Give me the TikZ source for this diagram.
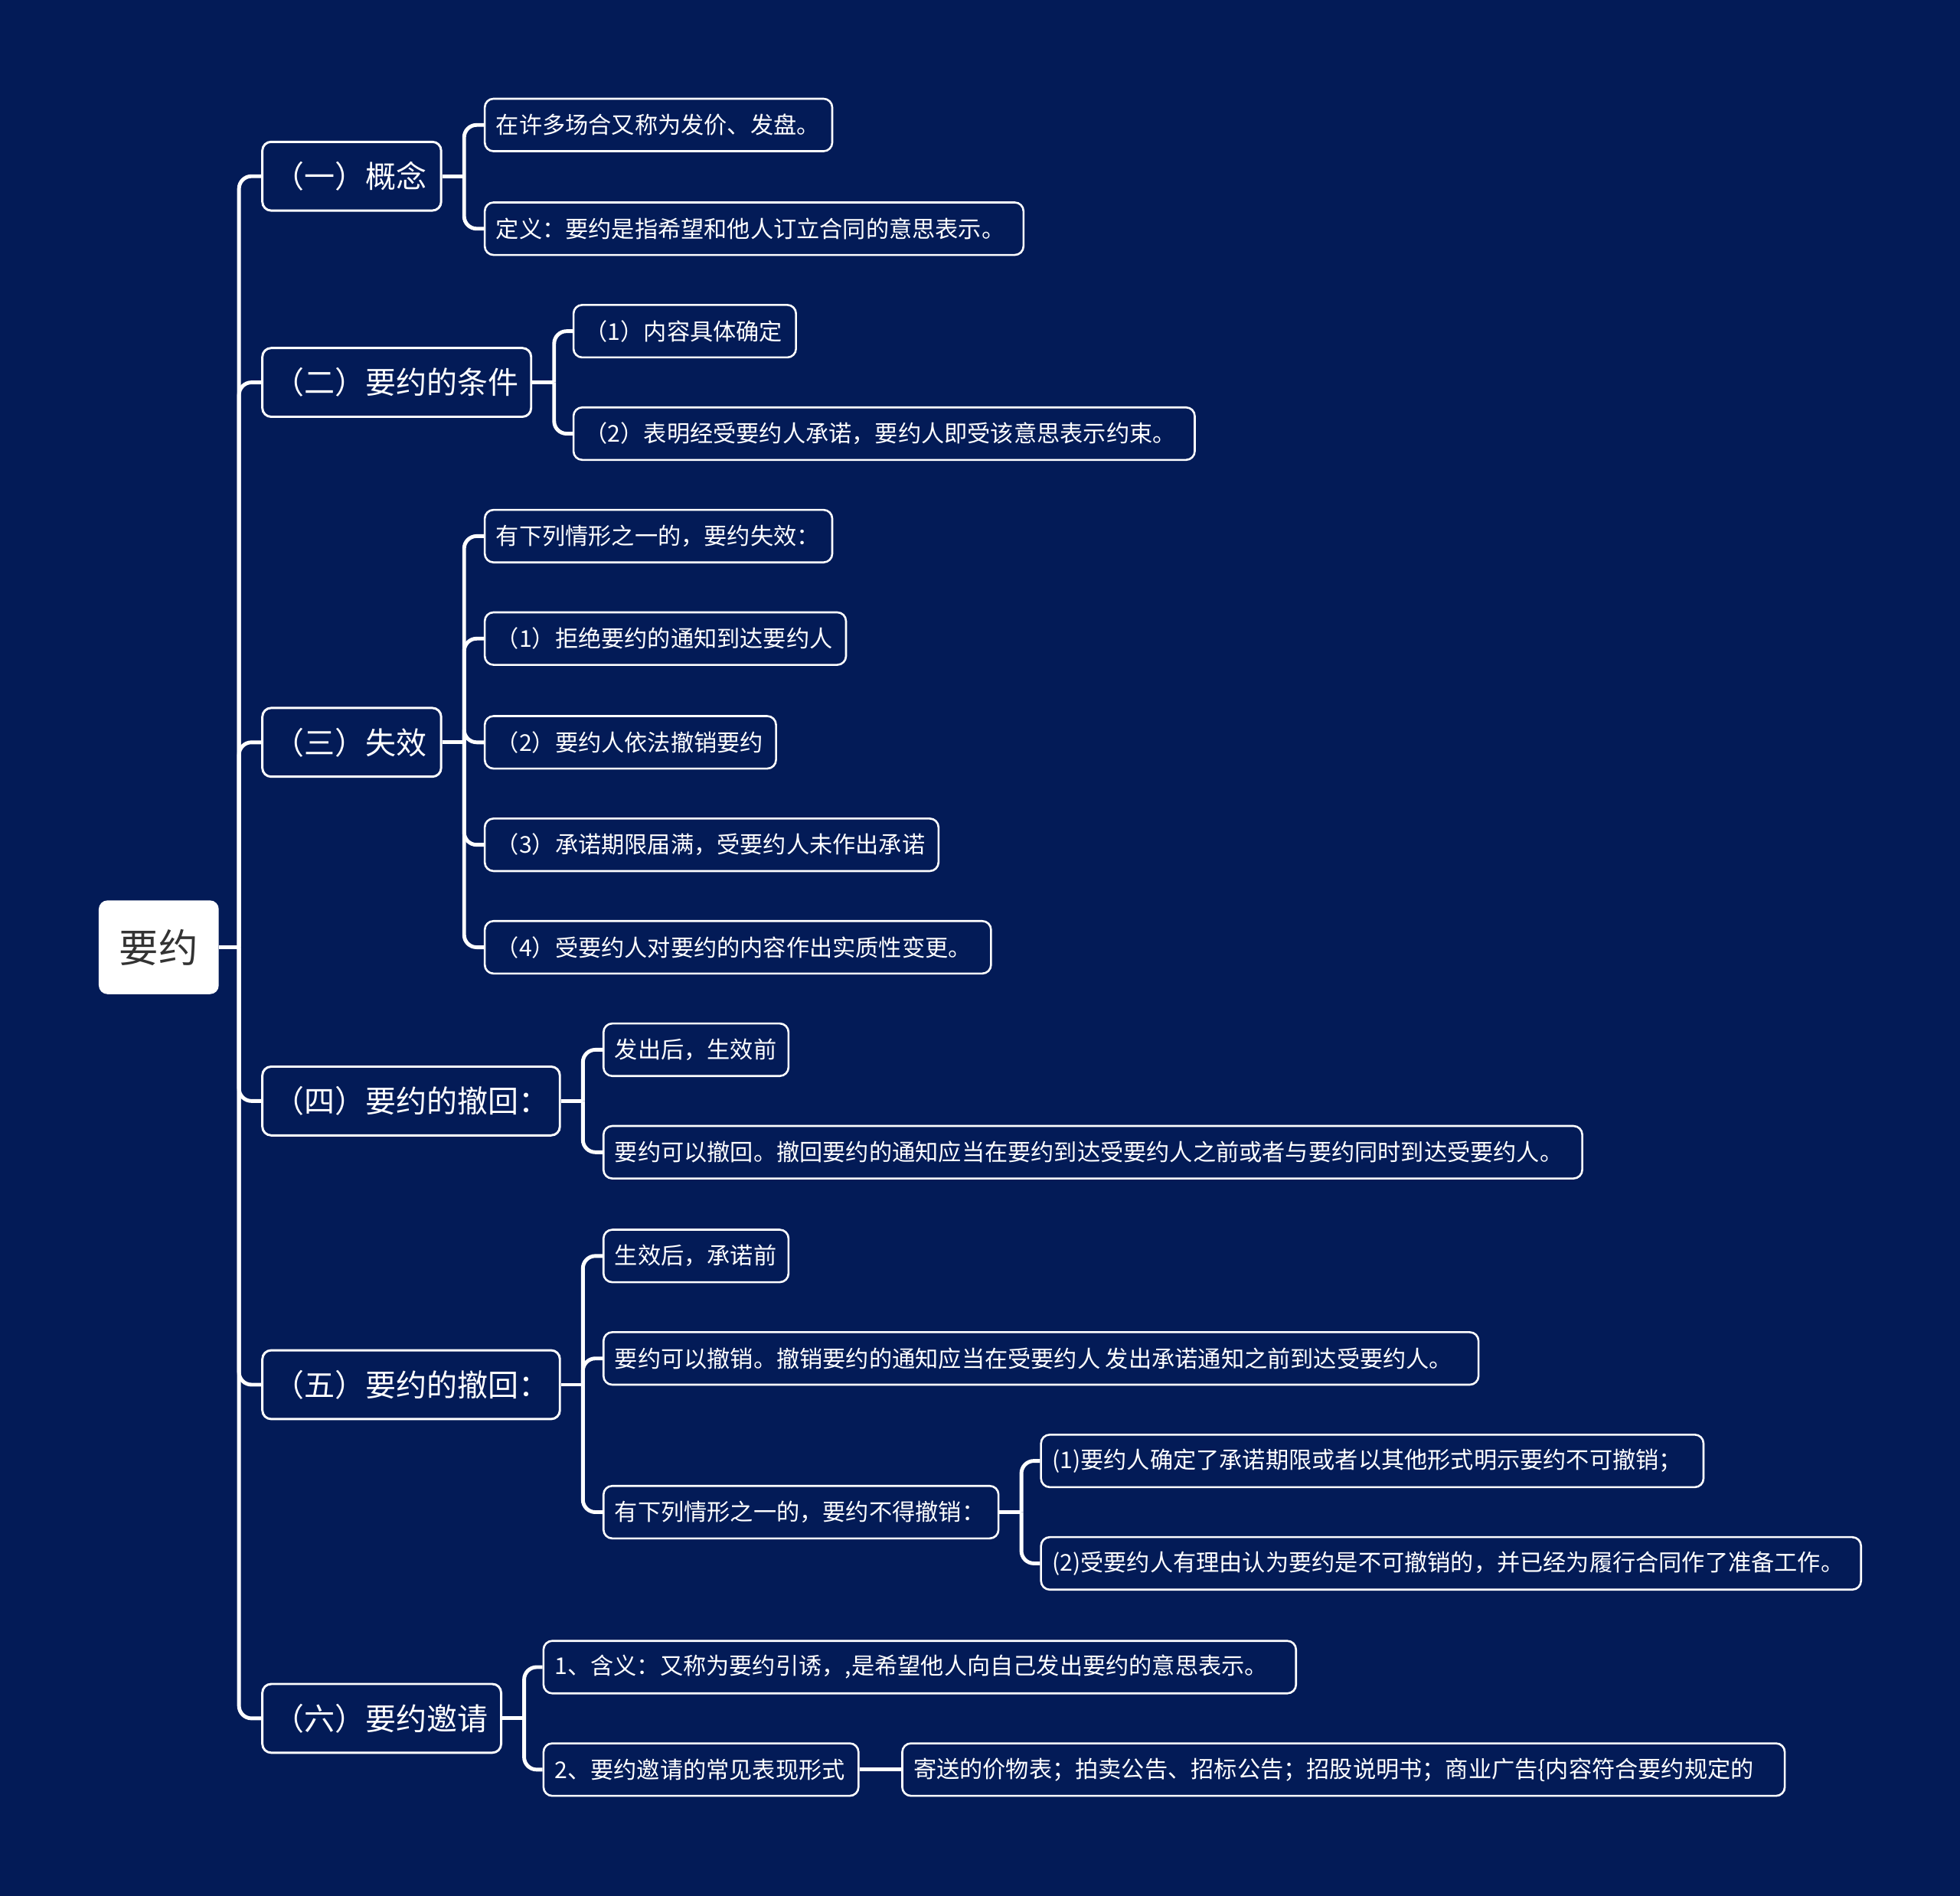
\documentclass[tikz,border=0pt]{standalone}
\usepackage{fontspec}
\setmainfont{Noto Sans CJK SC}
\definecolor{bgc}{HTML}{031B57}
\definecolor{roottext}{HTML}{333333}
\newcommand{\mybox}[2]{\makebox[#1pt][l]{#2}}
\begin{document}
\begin{tikzpicture}[x=1pt,y=-1pt,
  conn/.style={draw=white,line width=3pt},
  rootbox/.style={draw=none,fill=white,rounded corners=7pt,minimum width=96pt,minimum height=75pt,
     font=\fontsize{31.5pt}{36pt}\selectfont,text=roottext,inner sep=0pt},
  lone/.style={draw=white,line width=1.8pt,fill=bgc,rounded corners=7pt,anchor=west,minimum height=55pt,
     inner xsep=9pt,inner ysep=0pt,text=white,font=\fontsize{24.5pt}{28pt}\selectfont},
  ltwo/.style={draw=white,line width=1.6pt,fill=bgc,rounded corners=7pt,anchor=west,minimum height=42pt,
     inner xsep=9pt,inner ysep=0pt,text=white,font=\fontsize{18.5pt}{22pt}\selectfont}]
\fill[bgc] (0,0) rectangle (1568,1517);
\useasboundingbox (0,0) rectangle (1568,1517);

% root
\node[rootbox] (root) at (127,758) {要约};

% level 1
\node[lone] (n1) at (209,141) {\mybox{125}{（一）概念}};
\node[lone] (n2) at (209,306) {\mybox{197}{（二）要约的条件}};
\node[lone] (n3) at (209,594) {\mybox{125}{（三）失效}};
\node[lone] (n4) at (209,881) {\mybox{220}{（四）要约的撤回：}};
\node[lone] (n5) at (209,1108) {\mybox{220}{（五）要约的撤回：}};
\node[lone] (n6) at (209,1375) {\mybox{173}{（六）要约邀请}};

% level 2
\node[ltwo] (a1) at (387,100) {\mybox{260}{在许多场合又称为发价、发盘。}};
\node[ltwo] (a2) at (387,183) {\mybox{413}{定义：要约是指希望和他人订立合同的意思表示。}};
\node[ltwo] (b1) at (458,265) {\mybox{160}{（1）内容具体确定}};
\node[ltwo] (b2) at (458,347) {\mybox{479}{（2）表明经受要约人承诺，要约人即受该意思表示约束。}};
\node[ltwo] (c0) at (387,429) {\mybox{260}{有下列情形之一的，要约失效：}};
\node[ltwo] (c1) at (387,511) {\mybox{271}{（1）拒绝要约的通知到达要约人}};
\node[ltwo] (c2) at (387,594) {\mybox{215}{（2）要约人依法撤销要约}};
\node[ltwo] (c3) at (387,676) {\mybox{345}{（3）承诺期限届满，受要约人未作出承诺}};
\node[ltwo] (c4) at (387,758) {\mybox{387}{（4）受要约人对要约的内容作出实质性变更。}};
\node[ltwo] (d1) at (482,840) {\mybox{130}{发出后，生效前}};
\node[ltwo] (d2) at (482,922) {\mybox{765}{要约可以撤回。撤回要约的通知应当在要约到达受要约人之前或者与要约同时到达受要约人。}};
\node[ltwo] (e1) at (482,1005) {\mybox{130}{生效后，承诺前}};
\node[ltwo] (e2) at (482,1087) {\mybox{682}{要约可以撤销。撤销要约的通知应当在受要约人 发出承诺通知之前到达受要约人。}};
\node[ltwo] (e3) at (482,1210) {\mybox{298}{有下列情形之一的，要约不得撤销：}};
\node[ltwo] (f1) at (832,1169) {\mybox{512}{(1)要约人确定了承诺期限或者以其他形式明示要约不可撤销；}};
\node[ltwo] (f2) at (832,1251) {\mybox{638}{(2)受要约人有理由认为要约是不可撤销的，并已经为履行合同作了准备工作。}};
\node[ltwo] (g1) at (434,1334) {\mybox{584}{1、含义：又称为要约引诱，,是希望他人向自己发出要约的意思表示。}};
\node[ltwo] (g2) at (434,1416) {\mybox{234}{2、要约邀请的常见表现形式}};
\node[ltwo] (h1) at (721,1416) {\mybox{688}{寄送的价物表；拍卖公告、招标公告；招股说明书；商业广告\{内容符合要约规定的}};

% connectors
\draw[conn] (root.east) -- ++(16,0) coordinate (t0);
\foreach \n in {n1,n2,n3,n4,n5,n6}
  \draw[conn,rounded corners=10pt] (t0) |- (\n.west);

\draw[conn] (n1.east) -- ++(17.5,0) coordinate (p1);
\foreach \n in {a1,a2} \draw[conn,rounded corners=10pt] (p1) |- (\n.west);
\draw[conn] (n2.east) -- ++(17.5,0) coordinate (p2);
\foreach \n in {b1,b2} \draw[conn,rounded corners=10pt] (p2) |- (\n.west);
\draw[conn] (n3.east) -- ++(17.5,0) coordinate (p3);
\foreach \n in {c0,c1,c2,c3,c4} \draw[conn,rounded corners=10pt] (p3) |- (\n.west);
\draw[conn] (n4.east) -- ++(17.5,0) coordinate (p4);
\foreach \n in {d1,d2} \draw[conn,rounded corners=10pt] (p4) |- (\n.west);
\draw[conn] (n5.east) -- ++(17.5,0) coordinate (p5);
\foreach \n in {e1,e2,e3} \draw[conn,rounded corners=10pt] (p5) |- (\n.west);
\draw[conn] (e3.east) -- ++(17.5,0) coordinate (p6);
\foreach \n in {f1,f2} \draw[conn,rounded corners=10pt] (p6) |- (\n.west);
\draw[conn] (n6.east) -- ++(17.5,0) coordinate (p7);
\foreach \n in {g1,g2} \draw[conn,rounded corners=10pt] (p7) |- (\n.west);
\draw[conn] (g2.east) -- (h1.west);
\end{tikzpicture}
\end{document}
